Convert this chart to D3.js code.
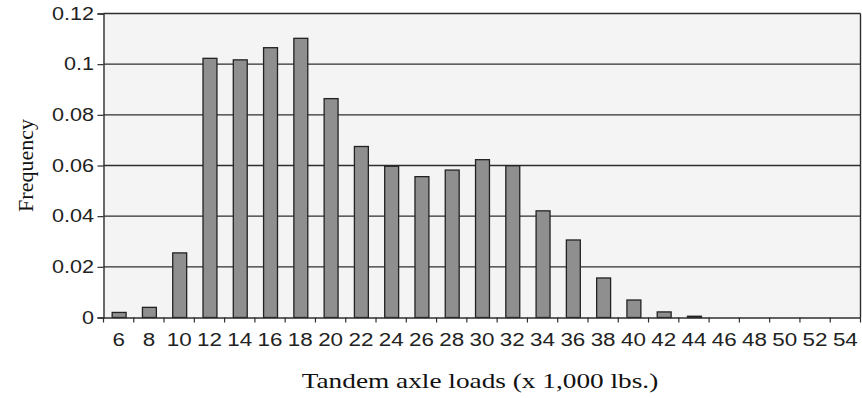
<!DOCTYPE html>
<html>
<head>
<meta charset="utf-8">
<script src="https://cdn.jsdelivr.net/npm/d3@7"></script>
<style>
  html, body { margin: 0; padding: 0; background: #ffffff; }
  svg { display: block; }
</style>
</head>
<body>
<svg id="chart" width="862" height="398"></svg>
<script>
// ---- data ----
const categories = ["6","8","10","12","14","16","18","20","22","24","26","28","30","32","34","36","38","40","42","44","46","48","50","52","54"];
const frequencies = [0.002,0.004,0.0255,0.1023,0.1017,0.1065,0.1102,0.0864,0.0675,0.0597,0.0556,0.0582,0.0623,0.0599,0.0421,0.0306,0.0156,0.0069,0.0022,0.0005,0,0,0,0,0];
const yTickValues = [0,0.02,0.04,0.06,0.08,0.1,0.12];
const yTickLabels = ["0","0.02","0.04","0.06","0.08","0.1","0.12"];
const xTitle = "Tandem axle loads (x 1,000 lbs.)";
const yTitle = "Frequency";

// ---- layout ----
const W = 862, H = 398;
const margin = { left: 103.5, right: 1.5, top: 13.5, bottom: 80.5 };
const svg = d3.select("#chart");

const x = d3.scaleBand().domain(categories).range([margin.left, W - margin.right]).padding(0);
const y = d3.scaleLinear().domain([0, 0.12]).range([H - margin.bottom, margin.top]);

const tickFont = "'Liberation Sans', Arial, sans-serif";
const titleFont = "'Liberation Serif', 'Times New Roman', serif";

// plot background
svg.append("rect")
  .attr("x", x.range()[0]).attr("y", y(0.12))
  .attr("width", x.range()[1] - x.range()[0])
  .attr("height", y(0) - y(0.12))
  .attr("fill", "#f4f4f4");

// gridlines
svg.append("g").selectAll("line")
  .data(yTickValues.filter(v => v > 0))
  .join("line")
  .attr("x1", x.range()[0]).attr("x2", x.range()[1])
  .attr("y1", d => y(d)).attr("y2", d => y(d))
  .attr("stroke", "#2e2e2e").attr("stroke-width", 1.4);

// right border
svg.append("line")
  .attr("x1", x.range()[1]).attr("x2", x.range()[1])
  .attr("y1", y(0.12)).attr("y2", y(0))
  .attr("stroke", "#2e2e2e").attr("stroke-width", 1.4);

// bars
const barFrac = 0.46;
svg.append("g").selectAll("rect")
  .data(categories.map((c, i) => ({ c, v: frequencies[i] })))
  .join("rect")
  .attr("x", d => x(d.c) + x.bandwidth() * (1 - barFrac) / 2 + 0.5)
  .attr("width", x.bandwidth() * barFrac)
  .attr("y", d => y(d.v))
  .attr("height", d => y(0) - y(d.v))
  .attr("fill", "#8f8f8f")
  .attr("stroke", d => d.v > 0 ? "#222" : "none")
  .attr("stroke-width", 1.3);

// y axis
const yAxis = d3.axisLeft(y)
  .tickValues(yTickValues)
  .tickFormat((d, i) => yTickLabels[i])
  .tickSize(6).tickPadding(2);
const gy = svg.append("g").attr("transform", `translate(${x.range()[0]},0)`).call(yAxis);
gy.select(".domain").attr("stroke", "#2e2e2e").attr("stroke-width", 1.4);
gy.selectAll(".tick line").attr("stroke", "#2e2e2e").attr("stroke-width", 1.2);
gy.selectAll(".tick text")
  .attr("font-family", tickFont).attr("font-size", 18).attr("fill", "#222")
  .attr("transform", "scale(1.2,1)");

// x axis: labels centered in bands
const xAxis = d3.axisBottom(x).tickSize(0).tickPadding(15);
const gx = svg.append("g").attr("transform", `translate(0,${y(0)})`).call(xAxis);
gx.select(".domain").attr("stroke", "#2e2e2e").attr("stroke-width", 1.4);
gx.selectAll(".tick text")
  .attr("font-family", tickFont).attr("font-size", 19).attr("fill", "#222")
  .attr("transform", "scale(1.18,1)");

// x tick marks at band boundaries
const boundaries = categories.map(c => x(c)).concat([x.range()[1]]);
svg.append("g").selectAll("line")
  .data(boundaries)
  .join("line")
  .attr("x1", d => d).attr("x2", d => d)
  .attr("y1", y(0)).attr("y2", y(0) + 5)
  .attr("stroke", "#2e2e2e").attr("stroke-width", 1.2);

// titles
svg.append("text")
  .attr("transform", `translate(${(x.range()[0] + x.range()[1]) / 2 - 2},388) scale(1.3,1)`)
  .attr("text-anchor", "middle")
  .attr("font-family", titleFont).attr("font-size", 21).attr("fill", "#111")
  .text(xTitle);

svg.append("text")
  .attr("transform", `translate(33,${(y(0) + y(0.12)) / 2}) rotate(-90)`)
  .attr("text-anchor", "middle")
  .attr("font-family", titleFont).attr("font-size", 22).attr("fill", "#111")
  .text(yTitle);
</script>
</body>
</html>
